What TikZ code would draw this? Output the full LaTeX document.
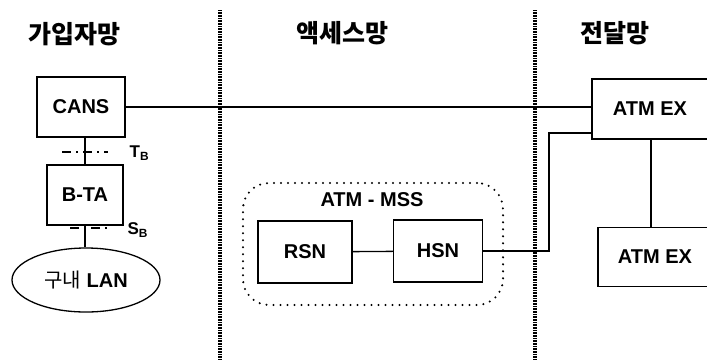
\documentclass[tikz,border=0pt]{standalone}
\usepackage{fontspec}
\setmainfont{Liberation Sans}
\newfontfamily\kofont{Noto Sans CJK KR}
\usetikzlibrary{shapes.geometric,positioning}
\newcommand{\lblsize}{\fontsize{20}{22}\selectfont}

\begin{document}
\begin{tikzpicture}[x=1pt,y=-1pt,line width=1.3pt,
		unit/.style={draw,rectangle,inner sep=0pt,font=\lblsize\bfseries},
		title/.style={font=\fontsize{25}{28}\selectfont\kofont\bfseries},
		boundary/.style={line width=4pt,dash pattern=on 0.8pt off 0.8pt},
		refpoint/.style={dash pattern=on 9pt off 5pt on 2pt off 5pt,line width=1.1pt},
		refname/.style={anchor=west,inner sep=0pt,font=\fontsize{17}{18}\selectfont\bfseries}]
		\clip (0,0) rectangle (707,360);
		% network boundaries
		\draw[boundary] (220,10) -- (220,360);
		\draw[boundary] (535,10) -- (535,360);
		\node[title] (subs) at (74,34) {가입자망};
		\node[title] (acc) at (342,33) {액세스망};
		\node[title] (trans) at (615,33) {전달망};
		% subscriber side
		\node[unit,minimum width=88,minimum height=60] (cans) at (81,107) {CANS};
		\node[unit,minimum width=76,minimum height=60] (bta) at (85,195) {B-TA};
		\node[draw,ellipse,minimum width=148,minimum height=64,inner sep=0pt,
			font=\lblsize] (lan) at (86,280) {{\kofont 구내} \textbf{LAN}};
		\draw (cans.south -| bta) -- (bta.north);
		\draw (bta.south) -- (lan.north -| bta.south);
		\draw[refpoint] (62,152) -- (108,152);
		\node[refname] (tb) at (129,153) {T$_{\mathbf{B}}$};
		\draw[refpoint] (70,228) -- (108,228);
		\node[refname] (sb) at (127,230) {S$_{\mathbf{B}}$};
		% access network
		\node[draw,rounded corners=26,dash pattern=on 0pt off 7pt,line cap=round,
			line width=2.3pt,minimum width=260,minimum height=122] (mss) at (373,244) {};
		\node[font=\lblsize\bfseries] (msslbl) at (372,200) {ATM - MSS};
		\node[unit,minimum width=94,minimum height=62] (rsn) at (305,252) {RSN};
		\node[unit,minimum width=89,minimum height=62] (hsn) at (438,251) {HSN};
		\draw (rsn) -- (hsn);
		% transport network
		\node[unit,minimum width=116,minimum height=60] (exA) at (650,109) {ATM EX};
		\node[unit,minimum width=114,minimum height=59] (exB) at (655,257) {ATM EX};
		\draw (exA.south -| 651,0) -- (exB.north -| 651,0);
		\draw (cans.east) -- (cans.east -| exA.west);
		\coordinate (jog) at (549,133);
		\draw (hsn.east) -| (jog) -- (jog -| exA.west);
	\end{tikzpicture}
\end{document}
